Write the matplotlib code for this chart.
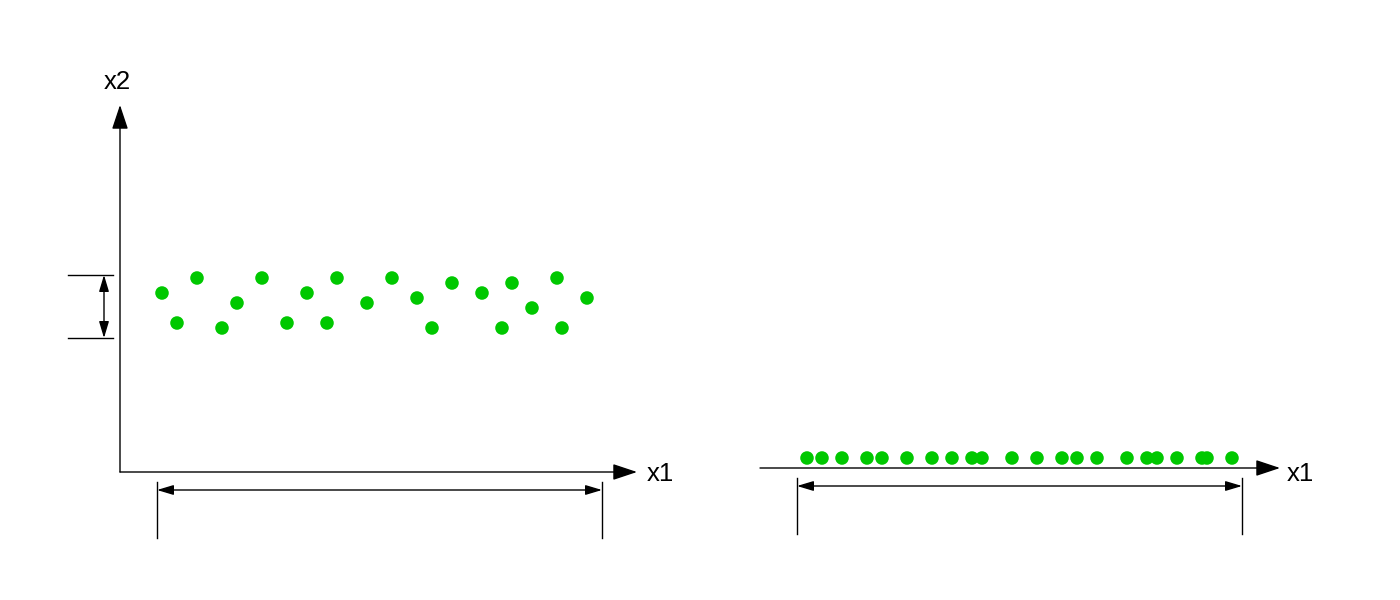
import matplotlib.pyplot as plt
from matplotlib.patches import FancyArrowPatch

# sample points (x1, x2) - same x1 used for the projection on the right
x1 = [42, 57, 77, 102, 117, 142, 167, 187, 207, 217, 247, 272, 297, 312, 332, 362, 382, 392, 412, 437, 442, 467]
x2 = [179, 149, 194, 144, 169, 194, 149, 179, 149, 194, 169, 194, 174, 144, 189, 179, 144, 189, 164, 194, 144, 174]
proj_y = [10] * len(x1)

green = '#00c800'
font = 'Liberation Sans'

fig = plt.figure(figsize=(14, 6), dpi=100)

# 1 data unit = 1 pixel in both panels
axl = fig.add_axes([0, 0, 0.5, 1])
axl.set_xlim(-120, 580)
axl.set_ylim(-128, 472)
axr = fig.add_axes([0.5, 0, 0.5, 1])
axr.set_xlim(-65, 635)
axr.set_ylim(-132, 468)
for ax in (axl, axr):
    ax.axis('off')


def arrow(ax, p0, p1, style):
    a = FancyArrowPatch(p0, p1, arrowstyle=style, mutation_scale=1, color='black',
                        lw=1, shrinkA=0, shrinkB=0, clip_on=False)
    ax.add_patch(a)


axis_style = '-|>,head_length=15,head_width=5'
dim_style = '<|-|>,head_length=10,head_width=3'

# left panel: 2D axes
arrow(axl, (0, 0), (0, 367), axis_style)
arrow(axl, (0, 0), (517, 0), axis_style)
axl.text(-3, 390, 'x2', fontsize=18.5, family=font, ha='center', va='center')
axl.text(540, -2, 'x1', fontsize=18.5, family=font, ha='center', va='center')

axl.scatter(x1, x2, s=95, color=green, edgecolors='none', zorder=3, clip_on=False)

# spread along x2
axl.plot([-52, -7], [197, 197], color='black', lw=1, clip_on=False)
axl.plot([-52, -7], [134, 134], color='black', lw=1, clip_on=False)
arrow(axl, (-16, 134), (-16, 197), dim_style)

# spread along x1
axl.plot([37, 37], [-10, -66], color='black', lw=1, clip_on=False)
axl.plot([482, 482], [-10, -66], color='black', lw=1, clip_on=False)
arrow(axl, (37, -18), (482, -18), dim_style)

# right panel: projection on x1
arrow(axr, (-5, 0), (515, 0), axis_style)
axr.text(535, -6, 'x1', fontsize=18.5, family=font, ha='center', va='center')
axr.scatter(x1, proj_y, s=95, color=green, edgecolors='none', zorder=3, clip_on=False)

axr.plot([32, 32], [-10, -66], color='black', lw=1, clip_on=False)
axr.plot([477, 477], [-10, -66], color='black', lw=1, clip_on=False)
arrow(axr, (32, -18), (477, -18), dim_style)

fig.savefig('out.png', dpi=100)
